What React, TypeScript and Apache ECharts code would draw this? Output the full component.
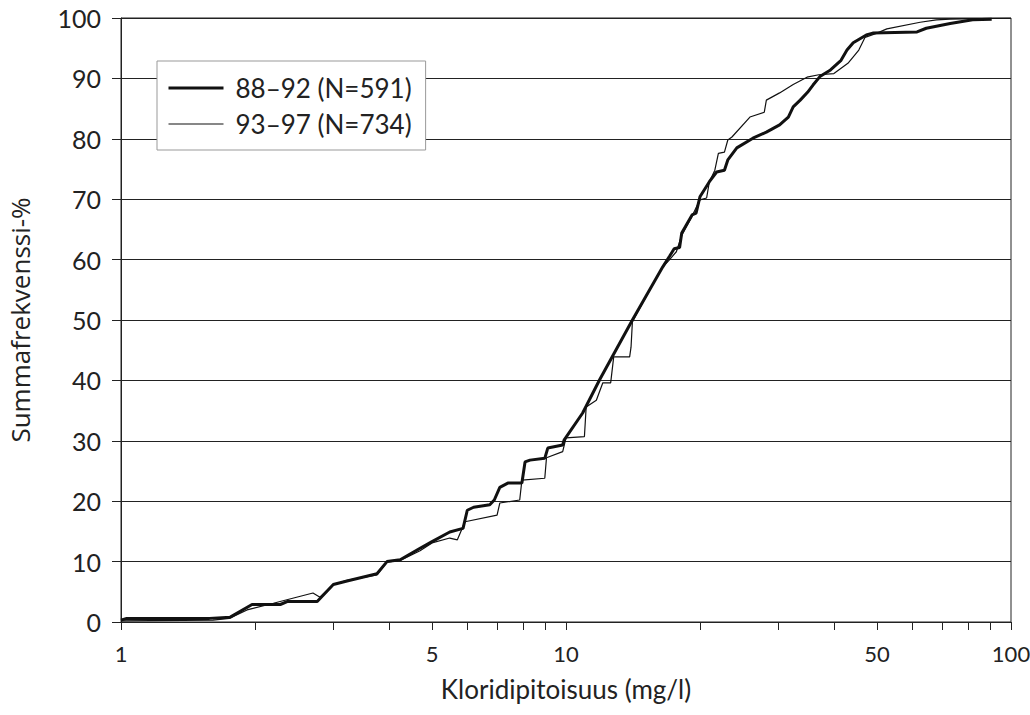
import React, { useEffect, useRef } from "react";
import * as echarts from "echarts";

// Series 88–92 (N=591): chloride concentration (mg/l) vs cumulative frequency (%)
const x8892 = [1.0, 1.03, 1.58, 1.76, 1.97, 2.28, 2.37, 2.76, 3.0, 3.22, 3.76, 3.96, 4.24, 4.7, 5.0, 5.48, 5.87, 6.0, 6.2, 6.74, 6.9, 7.1, 7.4, 7.96, 8.09, 8.3, 8.96, 9.1, 9.83, 9.9, 10.9, 11.9, 14.1, 16.5, 17.1, 17.5, 18.0, 18.2, 19.2, 19.6, 20.0, 21.0, 21.8, 22.7, 23.1, 24.2, 26.3, 28.2, 30.2, 31.6, 32.4, 33.6, 34.9, 35.9, 37.2, 39.3, 41.5, 42.8, 44.2, 47.3, 48.9, 61.5, 64.5, 73, 82, 90.5];
const y8892 = [0.3, 0.6, 0.6, 0.8, 2.9, 2.9, 3.4, 3.4, 6.2, 6.8, 8.0, 10.0, 10.3, 12.2, 13.3, 14.9, 15.5, 18.5, 19.0, 19.4, 20.2, 22.3, 23.0, 23.0, 26.5, 26.8, 27.1, 28.8, 29.3, 30.1, 34.6, 40.1, 50.0, 58.8, 60.6, 61.8, 62.0, 64.4, 67.4, 67.7, 70.4, 72.9, 74.5, 74.8, 76.5, 78.5, 80.1, 81.1, 82.3, 83.6, 85.3, 86.4, 87.7, 88.9, 90.3, 91.4, 93.0, 94.7, 95.9, 97.2, 97.5, 97.7, 98.3, 99.1, 99.7, 99.8];

// Series 93–97 (N=734)
const x9397 = [1.0, 1.61, 1.75, 1.92, 2.2, 2.7, 2.8, 3.0, 3.22, 3.76, 3.96, 4.24, 4.7, 5.0, 5.48, 5.7, 5.93, 7.0, 7.1, 7.87, 7.96, 8.96, 9.04, 9.83, 10.0, 11.0, 11.1, 11.7, 12.1, 12.6, 12.8, 13.9, 14.0, 14.1, 16.3, 16.6, 17.0, 17.7, 18.2, 19.2, 20.0, 20.7, 21.0, 21.6, 22.0, 22.7, 23.1, 23.6, 25.9, 27.9, 28.2, 30.2, 32.4, 34.8, 37.0, 40.0, 43.0, 45.5, 47.0, 50.0, 52.6, 62.5, 68, 73, 100];
const y9397 = [0.2, 0.3, 0.6, 2.0, 3.1, 4.8, 4.1, 6.2, 6.9, 7.8, 9.9, 10.2, 11.8, 13.1, 13.9, 13.6, 16.6, 17.7, 19.7, 20.2, 23.5, 23.8, 27.2, 28.2, 30.5, 30.7, 35.6, 36.7, 39.6, 39.6, 43.9, 43.9, 45.5, 49.7, 58.2, 59.0, 59.8, 61.3, 64.0, 67.2, 69.9, 70.2, 72.9, 74.8, 77.6, 77.8, 79.8, 80.3, 83.6, 84.4, 86.4, 87.6, 89.0, 90.2, 90.6, 90.8, 92.5, 94.7, 96.8, 97.5, 98.2, 99.3, 99.7, 99.8, 100];

const seriesNames = ["88\u201392 (N=591)", "93\u201397 (N=734)"];
const xTickValues = [1, 2, 3, 4, 5, 6, 7, 8, 9, 10, 20, 30, 40, 50, 60, 70, 80, 90, 100];
const xLabelValues = [1, 5, 10, 50, 100];
const xAxisTitle = "Kloridipitoisuus (mg/l)";
const yAxisTitle = "Summafrekvenssi-%";

const FONT = "Lato, 'Open Sans', sans-serif";

export default function App() {
  const ref = useRef<HTMLDivElement>(null);

  useEffect(() => {
    if (!ref.current) return;
    const chart = echarts.init(ref.current, null, { renderer: "svg" });
    const pairs = (xs: number[], ys: number[]) => xs.map((x, i) => [x, ys[i]]);
    const toLog = (v: number) => Math.log10(v);

    chart.setOption({
      animation: false,
      backgroundColor: "#fff",
      textStyle: { fontFamily: FONT, color: "#222" },
      grid: {
        left: 121,
        right: 19,
        top: 18,
        bottom: 93,
        containLabel: false,
        outerBoundsMode: "none",
        show: true,
        borderColor: "#222",
        borderWidth: 1,
        backgroundColor: "transparent",
      },
      legend: {
        left: 157,
        top: 61,
        orient: "vertical",
        padding: [14, 14, 13, 10],
        itemWidth: 55,
        itemHeight: 14,
        itemGap: 10,
        backgroundColor: "#fff",
        borderColor: "#999",
        borderWidth: 1,
        itemStyle: { opacity: 0, borderWidth: 0 },
        textStyle: {
          fontFamily: FONT,
          fontSize: 26,
          color: "#222",
          lineHeight: 26,
          padding: [0, 0, 0, 7],
        },
        data: [
          { name: seriesNames[0], lineStyle: { width: 3, color: "#111" }, itemStyle: { opacity: 0 } },
          { name: seriesNames[1], lineStyle: { width: 1.2, color: "#111" }, itemStyle: { opacity: 0 } },
        ],
      },
      xAxis: [
        {
          type: "log",
          logBase: 10,
          min: 1,
          max: 100,
          position: "bottom",
          axisLine: { show: true, lineStyle: { color: "#222", width: 1 } },
          axisTick: { show: false },
          axisLabel: { show: false },
          splitLine: { show: false },
          minorSplitLine: { show: false },
        },
        {
          type: "value",
          min: 0,
          max: 2,
          position: "bottom",
          axisLine: { show: false },
          splitLine: { show: false },
          axisTick: {
            show: true,
            length: 8,
            customValues: xTickValues.map(toLog),
            lineStyle: { color: "#222", width: 1 },
          },
          axisLabel: {
            show: true,
            customValues: xLabelValues.map(toLog),
            formatter: (v: number) => String(Math.round(Math.pow(10, v))),
            fontFamily: FONT,
            fontSize: 22,
            color: "#222",
            margin: 20,
          },
          name: xAxisTitle,
          nameLocation: "middle",
          nameGap: 54,
          nameTextStyle: { fontFamily: FONT, fontSize: 26, color: "#222" },
        },
      ],
      yAxis: {
        type: "value",
        min: 0,
        max: 100,
        interval: 10,
        axisLine: { show: true, lineStyle: { color: "#222", width: 1 } },
        axisTick: { show: true, length: 9, lineStyle: { color: "#222" } },
        axisLabel: {
          fontFamily: FONT,
          fontSize: 25,
          color: "#222",
          margin: 20,
        },
        splitLine: { show: true, lineStyle: { color: "#222", width: 1 } },
        name: yAxisTitle,
        nameLocation: "middle",
        nameGap: 88,
        nameTextStyle: { fontFamily: "'Open Sans', sans-serif", fontSize: 26, color: "#222" },
      },
      series: [
        {
          name: seriesNames[0],
          type: "line",
          xAxisIndex: 0,
          symbol: "none",
          data: pairs(x8892, y8892),
          lineStyle: { color: "#111", width: 3 },
          itemStyle: { color: "#111" },
          z: 3,
        },
        {
          name: seriesNames[1],
          type: "line",
          xAxisIndex: 0,
          symbol: "none",
          data: pairs(x9397, y9397),
          lineStyle: { color: "#111", width: 1.2 },
          itemStyle: { color: "#111" },
          z: 4,
        },
      ],
    });

    return () => chart.dispose();
  }, []);

  return (
    <div
      ref={ref}
      style={{ position: "fixed", left: 0, top: 0, width: 1030, height: 715 }}
    />
  );
}
